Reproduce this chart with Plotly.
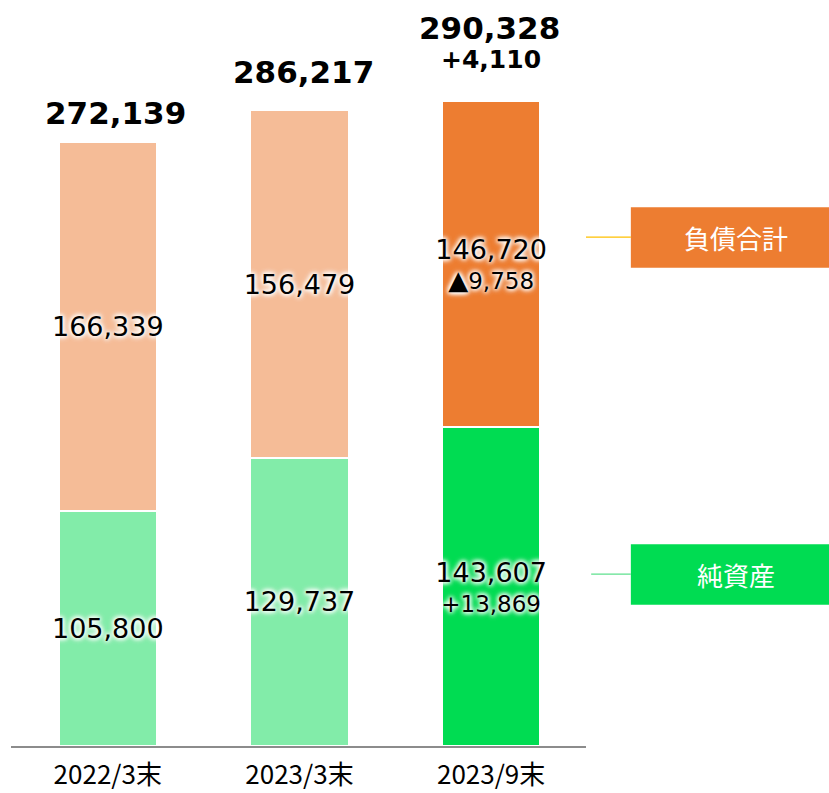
import plotly.graph_objects as go

categories = ["2022/3末", "2023/3末", "2023/9末"]
net_assets = [105800, 129737, 143607]
liabilities = [166339, 156479, 146720]
totals = [272139, 286217, 290328]
total_change = ["", "", "+4,110"]
net_change = ["", "", "+13,869"]
liab_change = ["", "", "▲9,758"]
legend_names = ["負債合計", "純資産"]

light_green = "#82ECA9"
green = "#00DC52"
light_orange = "#F5BC97"
orange = "#ED7D31"

MAIN = 27
SUB = 23

def fmt(v):
    return f"{v:,}"

def seg_text(vals, changes):
    out = []
    for v, c in zip(vals, changes):
        if c:
            c = c.replace("▲", "<span style='font-size:26px'>▲</span>")
            out.append(f"<span style='font-size:{MAIN}px'>{fmt(v)}</span><br>{c}")
        else:
            out.append(fmt(v))
    return out

def seg_sizes(changes):
    return [SUB if c else MAIN for c in changes]

shadow = "0px 0px 4px white, 0px 0px 4px white, 0px 0px 6px white, 0px 0px 6px white"
num_font = "DejaVu Sans"

fig = go.Figure()
fig.add_trace(go.Bar(
    x=categories, y=net_assets,
    marker=dict(color=[light_green, light_green, green], line=dict(color="white", width=1.5)),
    text=seg_text(net_assets, net_change),
    textposition="inside", insidetextanchor="middle", textangle=0,
    constraintext="none",
    textfont=dict(family=num_font, size=seg_sizes(net_change), color="black", shadow=shadow),
    hoverinfo="skip", name=legend_names[1],
))
fig.add_trace(go.Bar(
    x=categories, y=liabilities,
    marker=dict(color=[light_orange, light_orange, orange], line=dict(color="white", width=1.5)),
    text=seg_text(liabilities, liab_change),
    textposition="inside", insidetextanchor="middle", textangle=0,
    constraintext="none",
    textfont=dict(family=num_font, size=seg_sizes(liab_change), color="black", shadow=shadow),
    hoverinfo="skip", name=legend_names[0],
))

# total labels above bars (pixel offsets above bar top)
total_yshift = [29, 39, 73]
total_xshift = [8, 4, -2]
change_yshift = 42
for c, t, ch, ys, xs in zip(categories, totals, total_change, total_yshift, total_xshift):
    fig.add_annotation(x=c, y=t, text=f"<b>{fmt(t)}</b>", showarrow=False,
                       yanchor="middle", yshift=ys, xshift=xs,
                       font=dict(family=num_font, size=31, color="black"))
    if ch:
        fig.add_annotation(x=c, y=t, text=f"<b>{ch}</b>", showarrow=False,
                           yanchor="middle", yshift=change_yshift,
                           font=dict(family=num_font, size=25, color="black"))

# side labels
boxes = [
    (legend_names[0], orange, 0.718, 0.809, 0.764, "#FFC000", 1.0),
    (legend_names[1], green, 0.212, 0.303, 0.258, "#5EE08E", 1.009),
]
for name, col, y0, y1, yl, lcol, lx0 in boxes:
    fig.add_shape(type="rect", xref="paper", yref="paper", x0=1.078, x1=1.43,
                  y0=y0, y1=y1, fillcolor=col, line=dict(width=0), layer="above")
    fig.add_shape(type="line", xref="paper", yref="paper", x0=lx0, x1=1.078,
                  y0=yl, y1=yl, line=dict(color=lcol, width=1.2))
    fig.add_annotation(xref="paper", yref="paper", x=1.26, y=(y0 + y1) / 2,
                       text=name, showarrow=False, xanchor="center", yanchor="middle",
                       font=dict(family="Noto Sans CJK JP", size=26, color="white"))

fig.update_layout(
    width=829, height=793,
    margin=dict(l=11, r=243, t=80, b=47),
    barmode="stack", bargap=0.49,
    plot_bgcolor="white", paper_bgcolor="white",
    showlegend=False,
)
fig.update_xaxes(showline=True, linecolor="#8C8C8C", linewidth=2, ticks="",
                 tickfont=dict(family="Noto Sans CJK JP", size=26, color="black"),
                 ticklabelstandoff=5, automargin=False, range=[-0.505, 2.495])
fig.update_yaxes(visible=False, range=[0, 300000], showgrid=False)

fig.write_html("out.html", config={"displayModeBar": False},
               post_script="document.body.style.margin='0';")
